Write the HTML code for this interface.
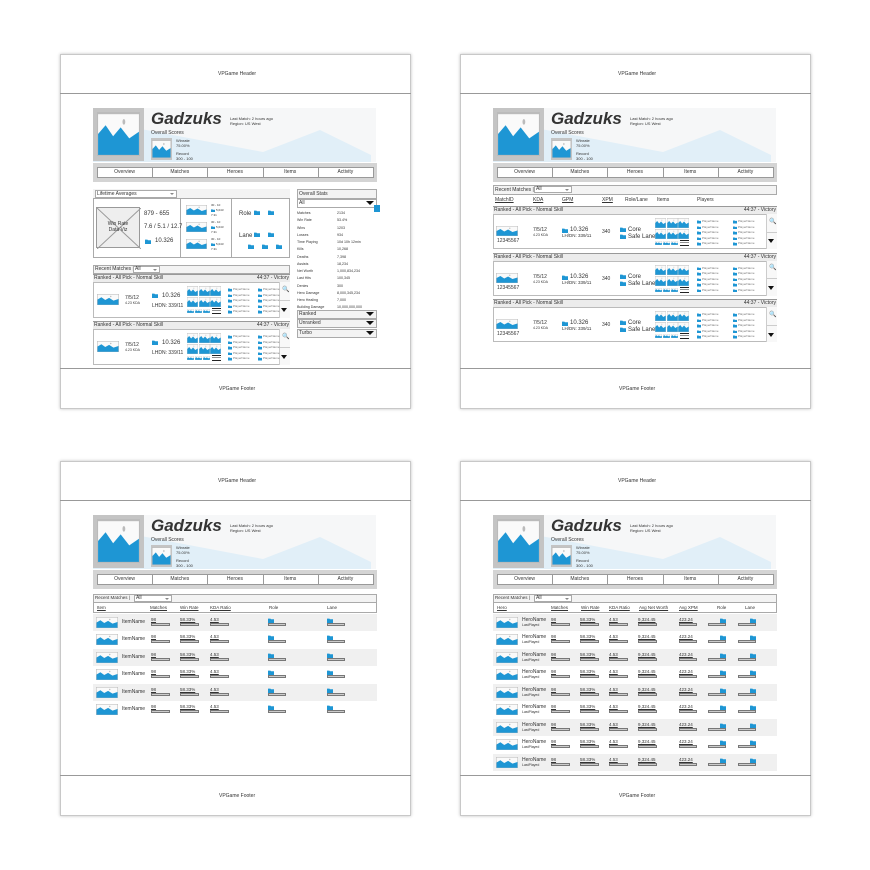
<!DOCTYPE html>
<html><head><meta charset="utf-8">
<style>
html,body{margin:0;padding:0;background:#fff;width:870px;height:870px;overflow:hidden;font-family:"Liberation Sans",sans-serif;color:#333}
#root{position:relative;width:870px;height:870px}
.a{position:absolute;box-sizing:border-box}
.t{position:absolute;white-space:nowrap;line-height:1;font-family:"Liberation Sans",sans-serif}
</style></head>
<body><div id="root"></div>
<script>
const root=document.getElementById('root');
const navTabs=['Overview','Matches','Heroes','Items','Activity'];
const statLabels=['Matches','Win Rate','Wins','Losses','Time Playing','Kills','Deaths','Assists','Net Worth','Last Hits','Denies','Hero Damage','Hero Healing','Building Damage'];
const statValues=['2134','53.4%','1203','934','10d 10h 12min','10,268','7,398','18,234','1,000,834,234','100,345','300','8,000,345,234','7,000','10,000,000,000'];
const trCols=['MatchID','KDA','GPM','XPM','Role/Lane','Items','Players'];
const blCols=['Item','Matches','Win Rate','KDA Ratio','Role','Lane'];
const brCols=['Hero','Matches','Win Rate','KDA Ratio','Avg Net Worth','Avg XPM','Role','Lane'];

function box(x,y,w,h,css,name,inter){
  const el=document.createElement('div');
  el.className='a';
  el.style.cssText=`left:${x}px;top:${y}px;width:${w}px;height:${h}px;`+(css||'');
  
  
  root.appendChild(el);return el;
}
function txt(x,y,s,size,css,name){
  const el=document.createElement('div');
  el.className='t';
  el.style.cssText=`left:${x}px;top:${y}px;font-size:${size}px;`+(css||'');
  el.textContent=s;
  
  
  root.appendChild(el);return el;
}
function img(x,y,w,h,name){
  const el=box(x,y,w,h,'',name||'image-placeholder');
  el.innerHTML=`<svg width="${w}" height="${h}" viewBox="0 0 40 20" preserveAspectRatio="none" style="display:block"><rect x="0.5" y="0.5" width="39" height="19" fill="#fafafa" stroke="#bbb"/><polygon points="1,19.5 1,10 8,6 15,11 22,7 30,12 39,9 39,19.5" fill="#1e96d4"/><circle cx="25" cy="4.5" r="1.3" fill="#bbb"/></svg>`;
  return el;
}
function folder(x,y,w,h,name){
  const el=box(x,y,w,h,'',name||'icon');
  el.innerHTML=`<svg width="${w}" height="${h}" viewBox="0 0 10 8" preserveAspectRatio="none" style="display:block"><polygon points="0,1 4,1 5,2 10,2 10,8 0,8" fill="#1e96d4"/></svg>`;
  return el;
}
function tri(x,y,w,name){
  const el=box(x,y,w,w*0.6,`border-left:${w/2}px solid transparent;border-right:${w/2}px solid transparent;border-top:${w*0.6}px solid #111;width:0;height:0`,name||'dropdown-arrow',true);
  return el;
}
function dropdown(x,y,w,h,label,name){
  box(x,y,w,h,'border:1px solid #aaa;background:#fff',name,true);
  txt(x+2,y+(h-5)/2,label,5,'',name+'-label');
  box(x+w-7,y+h/2-1,0,0,'border-left:2px solid transparent;border-right:2px solid transparent;border-top:2px solid #888',name+'-caret');
}

function common(dx,dy,p){
  box(60+dx,54+dy,351,355,'border:1px solid #c8c8c8;box-shadow:0 0 3px rgba(0,0,0,.25);background:#fff',p+'-panel');
  box(60+dx,93+dy,351,1,'background:#999',p+'-header-line');
  txt(218+dx,72+dy,'VPGame Header',5,'',p+'-header');
  box(60+dx,368+dy,351,1,'background:#999',p+'-footer-line');
  txt(219+dx,387+dy,'VPGame Footer',5,'',p+'-footer');
  const b=box(93+dx,108+dy,283,54,'background:#f6f7f8',p+'-profile-banner');
  b.innerHTML='<svg width="283" height="54" style="display:block"><polygon points="0,54 0,12 170,44 227,22 278,47 278,54" fill="#e1eff8"/></svg>';
  box(93+dx,108+dy,51,53,'background:#c4c4c4',p+'-avatar-frame');
  img(97+dx,112+dy,43,44,p+'-avatar');
  txt(151+dx,110+dy,'Gadzuks',17,'font-weight:bold;font-style:italic;color:#333',p+'-player-name');
  txt(230+dx,117+dy,'Last Match: 2 hours ago',4,'',p+'-last-match');
  txt(230+dx,122+dy,'Region: US West',4,'',p+'-region');
  txt(151+dx,131+dy,'Overall Scores',5,'',p+'-overall-scores');
  box(151+dx,138+dy,21,22,'background:#c4c4c4',p+'-score-frame');
  img(152+dx,140+dy,19,18,p+'-score-image');
  txt(176+dx,139+dy,'Winrate',4,'',p+'-winrate-label');
  txt(176+dx,144+dy,'75.00%',4,'',p+'-winrate');
  txt(176+dx,152+dy,'Record',4,'',p+'-record-label');
  txt(176+dx,157+dy,'300 - 100',4,'',p+'-record');
  box(93+dx,163+dy,284,19,'background:#d4d4d4',p+'-nav-bar');
  const tw=276/5;
  navTabs.forEach((n,i)=>{
    box(97+dx+i*tw,167+dy,tw+1,11,'border:1px solid #999;background:#fff','nav-'+n.toLowerCase(),true);
    txt(97+dx+i*tw,170+dy,n,5,`width:${tw}px;text-align:center`,'nav-'+n.toLowerCase()+'-label');
  });
}
common(0,0,'tl');common(400,0,'tr');common(0,407,'bl');common(400,407,'br');

function matchCard(x,y,w,h,p){
  box(x,y,w,8,'background:#ececec;border-top:1px solid #999',p+'-header');
  txt(x+1,y+2,'Ranked - All Pick - Normal Skill',5,'',p+'-mode');
  txt(x+w-47,y+2,'44:37 - Victory',5,'text-align:right;width:46px',p+'-result');
  box(x,y+8,w,h-8,'border:1px solid #bbb;background:#fff',p+'-body');
  const by=y+8;
  box(x+w-11,by,11,h-8,'border-left:1px solid #ccc;background:#f8f8f8',p+'-side-buttons');
  box(x+w-11,by+(h-8)/2,11,1,'background:#ccc',p+'-side-divider');
  txt(x+w-8,by+(h-8)/4-4,'\u{1F50D}',6,'color:#111;font-weight:bold',p+'-search-button');
  tri(x+w-9,by+(h-8)*0.75-1,7,p+'-expand-button');
  return by;
}
function itemsGrid(x,y,p){
  for(let r=0;r<2;r++)for(let c=0;c<3;c++)img(x+c*11.5,y+r*11,11,10,p+'-item-'+r+c);
  for(let c=0;c<3;c++)img(x+c*8,y+23,7,4,p+'-backpack-'+c);
  box(x+25,y+22,9,6,'border-top:1px solid #222;border-bottom:1px solid #222;background:linear-gradient(#fff 0 35%,#222 35% 55%,#fff 55%)',p+'-more-items',true);
}
function players(x,y,gap,p){
  for(let c=0;c<2;c++)for(let r=0;r<5;r++){
    folder(x+c*gap,y+r*5.5,4,3.5,p+'-player-icon');
    txt(x+c*gap+5,y+r*5.5,'PlayerName',3,'color:#777',p+'-player-name');
  }
}

box(93,189,197,69,'border:1px solid #aaa;background:#fff','lifetime-averages-box');
box(93,189,197,10,'border-bottom:1px solid #aaa;background:#f3f3f3','lifetime-header');
dropdown(95,190,82,8,'Lifetime Averages','lifetime-dropdown');
box(180,199,1,59,'background:#aaa','lifetime-div-1');
box(231,199,1,59,'background:#aaa','lifetime-div-2');
const wr=box(96,207,44,41,'border:1px solid #999;background:#eee','win-rate-viz');
wr.innerHTML='<svg width="44" height="41" style="display:block"><line x1="0" y1="0" x2="44" y2="41" stroke="#999"/><line x1="44" y1="0" x2="0" y2="41" stroke="#999"/></svg>';
txt(96,222,'Win Rate',5,'width:44px;text-align:center','win-rate-label');
txt(96,228,'Data Viz',5,'width:44px;text-align:center','data-viz-label');
txt(144,211,'879 - 655',6,'','win-loss');
txt(144,224,'7.6 / 5.1 / 12.7',6,'','avg-kda');
folder(145,239,6,5,'gold-icon');
txt(155,238,'10.326',6,'','avg-gold');
[0,1,2].forEach(i=>{
  const yy=205+i*17;
  img(186,yy,21,10,'hero-avg-'+i);
  txt(211,yy-1,'30 - 10',3,'','hero-wl-'+i);
  folder(211,yy+4,4,3,'hero-gold-icon-'+i);
  txt(216,yy+4,'5,043',3,'','hero-gold-'+i);
  txt(211,yy+9,'7.31',3,'','hero-kda-'+i);
});
txt(239,211,'Role',6,'','role-label');
folder(254,210,6,5,'role-icon-1');folder(268,210,6,5,'role-icon-2');
txt(239,233,'Lane',6,'','lane-label');
folder(254,232,6,5,'lane-icon-1');folder(268,232,6,5,'lane-icon-2');
folder(248,244,6,5,'lane-icon-3');folder(262,244,6,5,'lane-icon-4');folder(276,244,6,5,'lane-icon-5');

box(297,189,80,10,'border:1px solid #aaa;background:#f3f3f3','overall-stats-header');
txt(299,192,'Overall Stats',5,'','overall-stats-title');
box(297,199,80,9,'border:1px solid #aaa;background:#fff','stats-filter',true);
txt(299,201,'All',5,'','stats-filter-label');
tri(366,201,8,'stats-filter-arrow');
box(374,205,6,7,'background:#1e96d4','stats-badge');
statLabels.forEach((l,i)=>{
  txt(297,212+i*7.25,l,3.6,'','stat-label-'+i);
  txt(337,212+i*7.25,statValues[i],3.6,'','stat-value-'+i);
});
['Ranked','Unranked','Turbo'].forEach((l,i)=>{
  box(297,310+i*9.3,80,9,'border:1px solid #aaa;background:#f3f3f3','stats-'+l.toLowerCase(),true);
  txt(299,312+i*9.3,l,5,'','stats-'+l.toLowerCase()+'-label');
  tri(366,312+i*9.3,8,'stats-'+l.toLowerCase()+'-arrow');
});

box(93,265,197,9,'border:1px solid #aaa;background:#f3f3f3','tl-recent-bar');
txt(95,267,'Recent Matches |',5,'','tl-recent-label');
dropdown(133,266,27,7,'All','tl-recent-filter');
[274,321].forEach((y,k)=>{
  const p='tl-match-'+k;
  const by=matchCard(93,y,197,44,p);
  img(97,by+12,22,11,p+'-hero');
  txt(125,by+14,'7/5/12',5,'',p+'-kda');
  txt(125,by+20,'4.23 KDA',3.5,'',p+'-kda-ratio');
  folder(152,by+11,6,5,p+'-gold-icon');
  txt(162,by+11,'10.326',6,'',p+'-gold');
  txt(152,by+22,'LHDN: 339/11',5,'',p+'-lhdn');
  itemsGrid(187,by+4,p);
  players(228,by+6,30,p);
});

box(493,185,284,10,'border:1px solid #aaa;background:#f3f3f3','tr-recent-bar');
txt(495,188,'Recent Matches |',5,'','tr-recent-label');
dropdown(534,186,38,7,'All','tr-recent-filter');
const trX=[495,533,562,602,625,657,697];
trCols.forEach((c,i)=>txt(trX[i],198,c,5,i<4?'text-decoration:underline':'','tr-col-'+c.toLowerCase().replace('/','-')));
[206,252.7,299.3].forEach((y,k)=>{
  const p='tr-match-'+k;
  const by=matchCard(493,y,284,43,p);
  img(496,by+12,22,10,p+'-hero');
  txt(497,by+25,'12345567',5,'',p+'-id');
  txt(533,by+14,'7/5/12',5,'',p+'-kda');
  txt(533,by+20,'4.23 KDA',3.5,'',p+'-kda-ratio');
  folder(562,by+14,6,5,p+'-gold-icon');
  txt(570,by+13,'10.326',6,'',p+'-gold');
  txt(562,by+20,'LH/DN: 339/11',4.5,'',p+'-lhdn');
  txt(602,by+16,'340',5,'',p+'-xpm');
  folder(620,by+13,6,5,p+'-role-icon');
  txt(628,by+13,'Core',6,'',p+'-role');
  folder(620,by+20,6,5,p+'-lane-icon');
  txt(628,by+20,'Safe Lane',6,'',p+'-lane');
  itemsGrid(655,by+4,p);
  players(697,by+6,36,p);
});

function bar(x,y,w,name){box(x,y,w,3,'border:0.7px solid #777;background:#ccc',name);}
function tableHead(dx,cols,xs,p){
  box(93+dx,594,284,9,'border:1px solid #aaa;background:#f3f3f3',p+'-recent-bar');
  txt(95+dx,596,'Recent Matches |',4.5,'',p+'-recent-label');
  dropdown(134+dx,595,38,7,'All',p+'-recent-filter');
  box(93+dx,603,284,10,'border:1px solid #aaa;border-top:none;background:#fff',p+'-col-header');
  cols.forEach((c,i)=>txt(xs[i],606,c,4.5,(i<cols.length-2?'text-decoration:underline':''),p+'-col-'+c.toLowerCase().replace(/ /g,'-')));
}
tableHead(0,blCols,[97,150,180,210,269,327],'bl');
for(let r=0;r<6;r++){
  const y=613.5+r*17.5,p='bl-row-'+r;
  box(93,y,284,17.5,'background:'+(r%2==0?'#f0f0f0':'#fff'),p);
  img(96,y+3,22,11,p+'-icon');
  txt(122,y+6,'ItemName',5,'',p+'-name');
  txt(151,y+4,'98',4.5,'text-decoration:underline',p+'-matches');bar(151,y+9,19,p+'-matches-bar');
  txt(180,y+4,'58.33%',4.5,'text-decoration:underline',p+'-winrate');bar(180,y+9,19,p+'-winrate-bar');
  txt(210,y+4,'4.53',4.5,'text-decoration:underline',p+'-kda');bar(210,y+9,19,p+'-kda-bar');
  folder(268,y+4,6,5,p+'-role-icon');bar(268,y+9,18,p+'-role-bar');
  folder(327,y+4,6,5,p+'-lane-icon');bar(327,y+9,18,p+'-lane-bar');
}
tableHead(400,brCols,[497,551,581,609,639,679,717,745],'br');
for(let r=0;r<9;r++){
  const y=613.5+r*17.5,p='br-row-'+r;
  box(493,y,284,17.5,'background:'+(r%2==0?'#f0f0f0':'#fff'),p);
  img(496,y+3,22,11,p+'-icon');
  txt(522,y+4,'HeroName',5,'',p+'-name');
  txt(522,y+10,'LastPlayed',3.5,'',p+'-last-played');
  txt(551,y+4,'98',4.5,'text-decoration:underline',p+'-matches');bar(551,y+9,19,p+'-matches-bar');
  txt(580,y+4,'58.33%',4.5,'text-decoration:underline',p+'-winrate');bar(580,y+9,19,p+'-winrate-bar');
  txt(609,y+4,'4.53',4.5,'text-decoration:underline',p+'-kda');bar(609,y+9,19,p+'-kda-bar');
  txt(638,y+4,'9,324.45',4.5,'text-decoration:underline',p+'-networth');bar(638,y+9,19,p+'-networth-bar');
  txt(679,y+4,'423.24',4.5,'text-decoration:underline',p+'-xpm');bar(679,y+9,18,p+'-xpm-bar');
  folder(720,y+4,6,5,p+'-role-icon');bar(708,y+9,18,p+'-role-bar');
  folder(750,y+4,6,5,p+'-lane-icon');bar(738,y+9,18,p+'-lane-bar');
}
</script>
</body></html>
